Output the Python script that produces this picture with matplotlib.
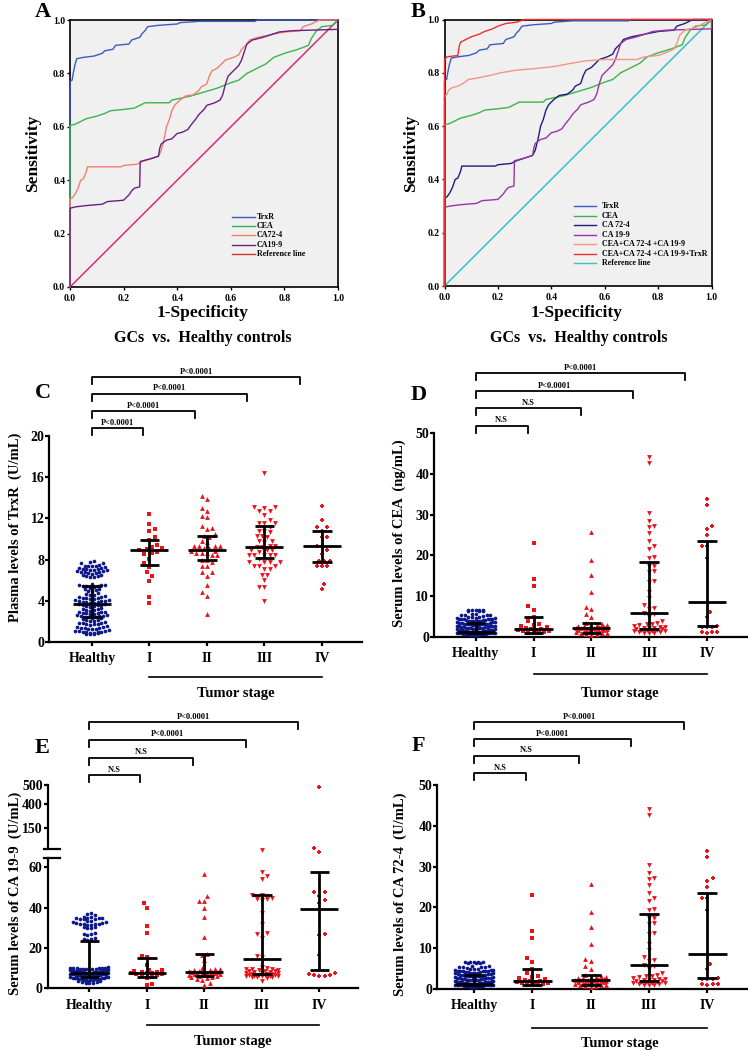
import numpy as np
import matplotlib
matplotlib.use("Agg")
import matplotlib.pyplot as plt
from matplotlib.lines import Line2D
from matplotlib import transforms

plt.rcParams['font.family'] = ['Liberation Serif', 'DejaVu Serif']
plt.rcParams['font.weight'] = 'bold'

trxr_fpr = [0, 0, 0.008, 0.012, 0.018, 0.025, 0.05, 0.09, 0.12, 0.13, 0.16, 0.17, 0.22, 0.23, 0.26,
            0.27, 0.28, 0.29, 0.33, 0.40, 0.41, 0.48, 0.69, 0.70, 1.0]
trxr_tpr = [0, 0.77, 0.775, 0.80, 0.83, 0.855, 0.86, 0.865, 0.875, 0.885, 0.89, 0.905, 0.91, 0.925, 0.935,
            0.95, 0.96, 0.975, 0.98, 0.985, 0.99, 0.995, 0.995, 1.0, 1.0]
cea_fpr = [0, 0, 0.02, 0.04, 0.06, 0.10, 0.13, 0.15, 0.20, 0.24, 0.26, 0.28, 0.37, 0.38, 0.45, 0.50,
           0.55, 0.60, 0.63, 0.66, 0.70, 0.73, 0.76, 0.80, 0.85, 0.89, 0.90, 0.92, 0.94, 0.98, 1.0]
cea_tpr = [0, 0.605, 0.61, 0.62, 0.63, 0.64, 0.65, 0.66, 0.665, 0.67, 0.68, 0.69, 0.69, 0.70, 0.715, 0.73,
           0.745, 0.765, 0.775, 0.80, 0.82, 0.835, 0.86, 0.875, 0.89, 0.905, 0.93, 0.96, 0.975, 0.98, 1.0]
ca724_fpr = [0, 0, 0.01, 0.02, 0.03, 0.04, 0.05, 0.06, 0.065, 0.19, 0.20, 0.25, 0.27, 0.30, 0.33, 0.34,
             0.35, 0.36, 0.37, 0.38, 0.39, 0.41, 0.43, 0.46, 0.48, 0.49, 0.51, 0.52, 0.53, 0.55, 0.58,
             0.61, 0.63, 0.64, 0.66, 0.67, 0.70, 0.75, 0.80, 0.86, 0.87, 0.90, 0.93, 1.0]
ca724_tpr = [0, 0.33, 0.335, 0.35, 0.37, 0.40, 0.405, 0.43, 0.45, 0.45, 0.455, 0.46, 0.47, 0.48, 0.49, 0.51,
             0.55, 0.60, 0.625, 0.66, 0.68, 0.70, 0.715, 0.72, 0.735, 0.75, 0.76, 0.79, 0.81, 0.82, 0.85,
             0.86, 0.87, 0.89, 0.91, 0.925, 0.935, 0.945, 0.955, 0.96, 0.975, 0.985, 1.0, 1.0]
ca199_fpr = [0, 0, 0.02, 0.06, 0.12, 0.14, 0.20, 0.22, 0.23, 0.24, 0.26, 0.262, 0.28, 0.30, 0.33, 0.335,
             0.34, 0.36, 0.38, 0.40, 0.42, 0.44, 0.45, 0.47, 0.48, 0.50, 0.51, 0.54, 0.56, 0.57, 0.58,
             0.59, 0.61, 0.63, 0.64, 0.65, 0.66, 0.68, 0.72, 0.75, 0.78, 0.83, 1.0, 1.0]
ca199_tpr = [0, 0.295, 0.30, 0.305, 0.31, 0.32, 0.325, 0.345, 0.36, 0.37, 0.375, 0.47, 0.475, 0.48, 0.49,
             0.52, 0.535, 0.55, 0.555, 0.575, 0.58, 0.59, 0.605, 0.63, 0.645, 0.665, 0.68, 0.69, 0.70,
             0.72, 0.76, 0.79, 0.81, 0.83, 0.85, 0.88, 0.91, 0.925, 0.935, 0.945, 0.955, 0.96, 0.965, 1.0]
combo3_fpr = [0, 0, 0.01, 0.015, 0.03, 0.05, 0.07, 0.09, 0.12, 0.17, 0.21, 0.27, 0.33, 0.38, 0.42, 0.47,
              0.53, 0.60, 0.72, 0.75, 0.80, 0.84, 0.86, 0.87, 0.88, 0.90, 0.94, 0.97, 1.0]
combo3_tpr = [0, 0.71, 0.72, 0.735, 0.745, 0.75, 0.76, 0.775, 0.78, 0.79, 0.80, 0.81, 0.815, 0.82, 0.825,
              0.835, 0.845, 0.85, 0.85, 0.86, 0.865, 0.88, 0.89, 0.91, 0.94, 0.96, 0.97, 0.985, 1.0]
combo4_fpr = [0, 0, 0.01, 0.05, 0.055, 0.06, 0.08, 0.10, 0.13, 0.15, 0.18, 0.20, 0.23, 0.27, 0.30, 1.0]
combo4_tpr = [0, 0.85, 0.86, 0.865, 0.90, 0.915, 0.925, 0.935, 0.945, 0.955, 0.965, 0.975, 0.985, 0.99, 1.0, 1.0]

stage_labels = ['Healthy', 'I', 'II', 'III', 'IV']

trxr_healthy = [7.85, 7.8, 7.7, 7.65, 7.45, 7.4, 7.4, 7.35, 7.35, 7.3, 7.2, 7.15, 7.1, 7.1, 7.05, 7.0, 7.0,
                6.95, 6.9, 6.85, 6.8, 6.8, 6.75, 6.7, 6.7, 6.65, 6.55, 6.5, 6.45, 6.4, 6.35, 6.3,
                5.6, 5.55, 5.5, 5.5, 5.45, 5.4, 5.4, 5.35, 5.2, 5.15, 5.1, 5.05, 5.0, 4.95, 4.8, 4.7, 4.6,
                4.55, 4.45, 4.4, 4.35, 4.3, 4.3, 4.25, 4.2, 4.2, 4.1, 4.05, 4.0, 4.0, 3.95, 3.9, 3.9, 3.85,
                3.8, 3.8, 3.7, 3.65, 3.6, 3.6, 3.55, 3.5, 3.45, 3.4, 3.3, 3.25, 3.2, 3.15, 3.1, 3.05,
                2.95, 2.9, 2.9, 2.85, 2.8, 2.8, 2.75, 2.7, 2.65, 2.6, 2.55, 2.5, 2.5, 2.45, 2.4, 2.4, 2.35,
                2.3, 2.2, 2.15, 2.1, 2.05, 2.0, 1.95, 1.85, 1.8, 1.8, 1.75, 1.7, 1.7, 1.65, 1.6, 1.5, 1.45,
                1.4, 1.4, 1.35, 1.3, 1.3, 1.25, 1.15, 1.1, 1.1, 1.05, 1.0, 1.0, 0.95, 0.95, 0.9, 0.9,
                0.85, 0.8, 0.8, 0.75]
trxr_I = [12.4, 11.5, 11.0, 10.8, 10.2, 9.9, 9.4, 9.2, 9.1, 9.0, 8.9, 8.7, 8.6, 8.5, 8.1, 7.7, 7.3, 6.8,
          6.4, 5.9, 4.4, 3.8]
trxr_II = [14.2, 13.9, 13.0, 12.7, 12.2, 12.1, 11.3, 11.1, 11.0, 10.5, 10.3, 10.15, 9.84, 9.7, 9.35, 9.3,
           9.3, 9.3, 9.1, 9.1, 8.87, 8.87, 8.65, 8.65, 8.65, 8.4, 8.4, 8.0, 8.0, 7.8, 7.4, 7.4, 6.84,
           6.84, 6.45, 5.5, 4.9, 4.5, 2.74]
trxr_III = [16.4, 13.1, 13.1, 13.0, 12.7, 12.7, 12.3, 11.8, 11.6, 11.6, 11.6, 11.2, 10.8, 10.8, 10.65,
            10.3, 10.3, 10.2, 9.85, 9.85, 9.7, 9.35, 9.35, 9.2, 9.2, 8.9, 8.9, 8.9, 8.7, 8.4, 8.4, 8.4,
            8.4, 8.4, 8.05, 7.8, 7.8, 7.8, 7.8, 7.4, 7.4, 7.4, 7.1, 7.1, 6.5, 6.5, 6.05, 5.3, 5.3, 4.0]
trxr_IV = [13.2, 11.8, 11.2, 11.2, 10.8, 10.2, 10.2, 9.35, 9.35, 8.9, 8.55, 7.9, 7.9, 7.9, 7.4, 7.4, 7.4,
           5.65, 5.15]
trxr_center = [3.7, 8.9, 8.9, 9.2, 9.35]
trxr_low = [2.4, 7.5, 7.95, 8.2, 7.75]
trxr_high = [5.4, 9.9, 10.3, 11.3, 10.8]
trxr_sig = ['P<0.0001', 'P<0.0001', 'P<0.0001', 'P<0.0001']

cea_healthy = [6.7, 6.6, 6.6, 6.5, 6.5, 6.4, 6.4, 6.3, 5.7, 5.6, 5.5, 5.5, 5.4, 5.3, 5.2,
               4.9, 4.8, 4.8, 4.7, 4.6, 4.6, 4.5, 4.5, 4.4, 4.4, 4.3, 4.3, 4.2, 4.1, 4.1, 4.0, 4.0, 3.9,
               3.9, 3.8, 3.8, 3.7, 3.7, 3.6, 3.5, 3.4, 3.4, 3.3, 3.3, 3.2, 3.2, 3.1, 3.1, 3.0, 3.0, 2.9,
               2.9, 2.8, 2.7, 2.7, 2.6, 2.6, 2.5, 2.5, 2.4, 2.4, 2.3, 2.3, 2.2, 2.2, 2.1, 2.1, 2.0, 2.0,
               1.9, 1.9, 1.8, 1.8, 1.8, 1.7, 1.7, 1.7, 1.6, 1.6, 1.6, 1.5, 1.5, 1.5, 1.4, 1.4, 1.4, 1.3,
               1.3, 1.3, 1.2, 1.2, 1.2, 1.1, 1.1, 1.1, 1.0, 1.0, 1.0, 0.9, 0.9, 0.9, 0.8, 0.8, 0.8, 0.7,
               0.7, 0.7, 0.6, 0.6, 0.6, 0.5, 1.45, 1.35, 1.25, 1.15, 1.05, 0.95, 0.85, 0.75]
cea_I = [23.0, 14.3, 12.4, 7.7, 6.6, 5.0, 3.8, 3.2, 3.0, 2.6, 2.4, 2.2, 2.0, 1.9, 1.8, 1.6, 1.5, 1.4,
         1.2, 1.1, 1.0, 0.9]
cea_II = [25.8, 18.9, 15.3, 11.0, 7.4, 6.8, 5.6, 5.0, 3.4, 3.3, 3.0, 2.9, 2.8, 2.7, 2.6, 2.5, 2.4, 2.3,
          2.3, 2.2, 2.1, 2.0, 2.0, 1.9, 1.8, 1.8, 1.7, 1.6, 1.5, 1.5, 1.4, 1.3, 1.2, 1.1, 1.0, 0.9,
          0.8, 0.7, 0.6]
cea_III = [44.2, 42.6, 30.5, 28.4, 27.1, 27.0, 25.4, 23.6, 22.4, 21.6, 19.6, 19.4, 17.4, 17.3, 16.1,
           16.0, 13.8, 13.4, 11.0, 9.5, 7.8, 7.0, 6.9, 5.8, 5.6, 4.9, 3.9, 3.4, 3.3, 3.2, 2.9, 2.7,
           2.5, 2.4, 2.3, 2.2, 2.1, 2.0, 1.9, 1.8, 1.7, 1.6, 1.5, 1.5, 1.4, 1.3, 1.2, 1.1, 1.0, 0.9]
cea_IV = [33.8, 32.3, 27.1, 26.5, 25.1, 22.3, 22.2, 19.3, 6.2, 5.0, 2.6, 2.5, 2.5, 2.4, 1.3, 1.2, 1.2, 1.1]
cea_center = [1.3, 2.0, 2.1, 5.9, 8.5]
cea_low = [0.9, 1.1, 1.1, 2.0, 2.6]
cea_high = [3.4, 4.9, 3.4, 18.5, 23.6]
cea_sig = ['N.S', 'N.S', 'P<0.0001', 'P<0.0001']

ca199_healthy = [37.3, 37.0, 36.5, 35.4, 35.2, 35.0, 34.9, 34.8, 34.7, 34.6, 34.5, 34.4, 33.5, 33.3,
                 33.0, 32.8, 32.4, 32.2, 32.0, 31.9, 31.8, 31.7, 31.6, 31.5, 30.5, 30.2, 30.0, 29.8,
                 27.2, 27.0, 26.8, 26.5, 24.8, 24.6, 24.4, 24.2,
                 10.4, 10.3, 10.2, 10.1, 10.0, 10.0, 9.9, 9.8, 9.7, 9.6, 9.5, 9.4, 9.3, 9.2, 9.1, 9.0,
                 9.0, 8.9, 8.8, 8.7, 8.6, 8.5, 8.4, 8.3, 8.2, 8.1, 8.0, 8.0, 7.9, 7.8, 7.7, 7.6, 7.5, 7.4,
                 7.3, 7.2, 7.1, 7.0, 7.0, 6.9, 6.8, 6.7, 6.6, 6.5, 6.4, 6.3, 6.2, 6.1, 6.0, 6.0, 5.9, 5.8,
                 5.7, 5.6, 5.5, 5.4, 5.3, 5.2, 5.1, 5.0, 4.9, 4.8, 4.7, 4.6, 4.5, 4.4, 4.3, 4.2, 4.1, 4.0,
                 3.8, 3.6, 3.4, 3.2, 3.0, 2.8, 2.6, 2.4]
ca199_I = [42.5, 40.0, 30.8, 27.5, 16.2, 15.5, 11.7, 9.3, 9.0, 8.6, 8.3, 8.0, 7.8, 7.6, 7.4, 7.2, 7.0,
           6.6, 6.2, 5.8, 5.0, 2.2, 1.8]
ca199_II = [56.8, 45.6, 43.4, 43.2, 39.8, 35.4, 25.4, 16.8, 16.4, 14.0, 10.0, 9.6, 9.4, 9.2, 9.0, 8.8,
            8.6, 8.4, 8.3, 8.2, 8.0, 7.8, 7.6, 7.5, 7.4, 7.2, 7.0, 6.8, 6.6, 6.4, 6.2, 6.0, 5.8, 5.5,
            5.2, 4.6, 4.2, 2.8, 1.8]
ca199_III = [68.5, 57.8, 55.6, 54.0, 46.5, 46.2, 45.0, 44.5, 44.2, 43.6, 37.5, 32.0, 27.2, 26.8, 25.0,
             16.2, 15.4, 10.4, 10.0, 9.8, 9.6, 9.4, 9.2, 9.0, 8.8, 8.6, 8.4, 8.2, 8.0, 7.8, 7.6, 7.4,
             7.2, 7.0, 6.9, 6.8, 6.7, 6.6, 6.5, 6.4, 6.3, 6.2, 6.1, 6.0, 5.9, 5.8, 5.6, 5.4, 5.0, 3.6]
ca199_IV = [487, 69.8, 67.8, 47.8, 47.6, 45.6, 44.0, 42.5, 26.8, 26.6, 16.5, 9.2, 7.6, 7.2, 6.6, 6.4,
            6.2, 6.0]
ca199_center = [7.8, 7.5, 8.0, 14.7, 39.4]
ca199_low = [5.5, 5.6, 5.9, 7.0, 9.2]
ca199_high = [23.6, 15.0, 17.2, 46.3, 57.8]
ca199_sig = ['N.S', 'N.S', 'P<0.0001', 'P<0.0001']

# panel F shows the same values as panel D in the source figure
ca724_healthy, ca724_I, ca724_II, ca724_III, ca724_IV = cea_healthy, cea_I, cea_II, cea_III, cea_IV
ca724_center, ca724_low, ca724_high = cea_center, cea_low, cea_high
ca724_sig = ['N.S', 'N.S', 'P<0.0001', 'P<0.0001']

# ---------------- figure helpers ----------------
W, H = 748, 1051
fig = plt.figure(figsize=(W / 100, H / 100), dpi=100)
NAVY = '#0d1889'
RED = '#e8141c'
MARKERS = ['o', 's', '^', 'v', 'P']
MSIZE = [7, 10, 12, 12, 12]


def px_axes(l, t, r, b):
    return fig.add_axes([l / W, 1 - b / H, (r - l) / W, (b - t) / H])


def ftext(x, y, s, **kw):
    kw.setdefault('ha', 'center'); kw.setdefault('va', 'center')
    fig.text(x / W, 1 - y / H, s, **kw)


def fline(x0, x1, y0, y1, **kw):
    fig.add_artist(Line2D([x0 / W, x1 / W], [1 - y0 / H, 1 - y1 / H], **kw))


def roc_panel(ax, curves, ref_color):
    ax.set_facecolor('#f0f0f0')
    ax.plot([0, 1], [0, 1], color=ref_color, lw=1.1, zorder=2)
    for fpr, tpr, c in curves:
        ax.plot(fpr, tpr, color=c, lw=1.0, clip_on=False, zorder=3)
    ax.set_xlim(0, 1); ax.set_ylim(0, 1)
    t = np.round(np.arange(0, 1.01, 0.2), 1)
    ax.set_xticks(t); ax.set_yticks(t)
    ax.set_xticklabels([f"{v:.1f}" for v in t]); ax.set_yticklabels([f"{v:.1f}" for v in t])
    for s in ax.spines.values():
        s.set_linewidth(1.2); s.set_zorder(2.5)
    ax.tick_params(direction='out', length=2.5, width=1, labelsize=7)
    ax.tick_params(axis='y', pad=1)
    ax.tick_params(axis='x', pad=2.5)


def roc_legend(x0, y0, dy, length, gap, items):
    for k, (lab, col) in enumerate(items):
        y = y0 + k * dy
        fline(x0, x0 + length, y, y, color=col, lw=1.0)
        ftext(x0 + gap, y, lab, ha='left', fontsize=5.8)


def rows_swarm(ax, xc, vals, dot, half):
    # dense groups: bin into pixel rows and spread each row symmetrically (smile-shaped arcs)
    vals = np.asarray(vals, float)
    pts = ax.transData.transform(np.column_stack([np.full(len(vals), xc), vals]))
    ppx = ax.transData.transform([(1, 0)])[0, 0] - ax.transData.transform([(0, 0)])[0, 0]
    rows = np.floor(pts[:, 1] / dot).astype(int)
    off = np.zeros(len(vals))
    for r in np.unique(rows):
        idx = np.where(rows == r)[0]
        n = len(idx)
        if n < 2:
            continue
        step = min(dot, 2 * half / (n - 1))
        slots = (np.arange(n) - (n - 1) / 2) * step
        slots = slots[np.argsort(np.abs(slots), kind='stable')]
        off[idx[np.argsort(vals[idx], kind='stable')]] = slots
    return xc + off / ppx


def bee_swarm(ax, xc, vals, dot, half):
    # sparse groups: place each point at the nearest free horizontal slot
    vals = np.asarray(vals, float)
    ypx = ax.transData.transform(np.column_stack([np.full(len(vals), xc), vals]))[:, 1]
    ppx = ax.transData.transform([(1, 0)])[0, 0] - ax.transData.transform([(0, 0)])[0, 0]
    cands = [0.0]
    k = 1
    while k * dot / 2 <= half:
        cands += [k * dot / 2, -k * dot / 2]
        k += 1
    placed_x, placed_y = [], []
    off = np.zeros(len(vals))
    for n, i in enumerate(np.argsort(ypx, kind='stable')):
        y = ypx[i]
        best, bestd = 0.0, -1.0
        sign = 1 if n % 2 else -1
        for c in cands:
            c = c * sign
            if placed_x:
                d = np.min(np.hypot(np.array(placed_x) - c, np.array(placed_y) - y))
            else:
                d = 1e9
            if d >= dot:
                best = c
                break
            if d > bestd:
                bestd, best = d, c
        off[i] = best
        placed_x.append(best); placed_y.append(y)
    return xc + off / ppx


def dot_groups(ax, groups, upper=None, cut=100):
    for i, vals in enumerate(groups):
        vals = np.asarray(vals, float)
        col = NAVY if i == 0 else RED
        lo = vals[vals < cut]
        if i == 0:
            xs = rows_swarm(ax, i, lo, 3.7, 19)
        else:
            xs = bee_swarm(ax, i, lo, 5.2, 18)
        ax.scatter(xs, lo, s=MSIZE[i], marker=MARKERS[i], color=col, lw=0, zorder=3, clip_on=False)
        hi = vals[vals >= cut]
        if upper is not None and len(hi):
            upper.scatter(np.full(len(hi), i), hi, s=MSIZE[i], marker=MARKERS[i], color=col, lw=0,
                          zorder=3, clip_on=False)


def mean_bars(ax, centers, lows, highs):
    kw = dict(color='k', lw=2.0, zorder=4, solid_capstyle='butt', clip_on=False)
    for i, (c, lo, hi) in enumerate(zip(centers, lows, highs)):
        ax.plot([i - 0.33, i + 0.33], [c, c], **kw)
        ax.plot([i, i], [lo, hi], **kw)
        ax.plot([i - 0.17, i + 0.17], [lo, lo], **kw)
        ax.plot([i - 0.17, i + 0.17], [hi, hi], **kw)


def style_dot_axes(ax, xlim, ylim, yticks, xlabels=True):
    ax.set_xlim(xlim); ax.set_ylim(ylim)
    ax.spines['top'].set_visible(False); ax.spines['right'].set_visible(False)
    ax.spines['left'].set_linewidth(1.6); ax.spines['bottom'].set_linewidth(1.6)
    ax.set_yticks(yticks)
    ax.tick_params(direction='out', length=3, width=1.6, labelsize=10)
    ax.tick_params(axis='y', pad=0.5)
    if xlabels:
        ax.set_xticks(range(len(stage_labels)))
        ax.set_xticklabels(stage_labels)
        ax.tick_params(axis='x', pad=4.5)


def brackets(ax, ends, tops, labels):
    tr = transforms.blended_transform_factory(ax.transData, fig.transFigure)
    for xe, top, lab in zip(ends, tops, labels):
        yt, yl = 1 - top / H, 1 - (top + 7) / H
        ax.plot([0, 0, xe, xe], [yl, yt, yt, yl], transform=tr, color='k', lw=1.3, clip_on=False)
        ax.text(xe / 2, 1 - (top - 1.5) / H, lab, transform=tr, ha='center', va='bottom', fontsize=6)


def tumor_stage(ax, y_line, y_text):
    tr = transforms.blended_transform_factory(ax.transData, fig.transFigure)
    ax.plot([1, 4], [1 - y_line / H] * 2, transform=tr, color='k', lw=1.2, clip_on=False)
    ax.text(2.5, 1 - y_text / H, 'Tumor stage', transform=tr, ha='center', va='center', fontsize=10.5)


# ---------------- A ----------------
axA = px_axes(70, 20, 338, 287)
roc_panel(axA, [(trxr_fpr, trxr_tpr, '#3b5bc4'), (cea_fpr, cea_tpr, '#3cb44b'),
                (ca724_fpr, ca724_tpr, '#f0806e'), (ca199_fpr, ca199_tpr, '#6a2080')], '#e0287a')
roc_legend(231.7, 216.7, 9.33, 23, 25, [('TrxR', '#3b5bc4'), ('CEA', '#3cb44b'), ('CA72-4', '#f0806e'),
                                        ('CA19-9', '#6a2080'), ('Reference line', '#c83232')])
ftext(35, 2, 'A', ha='left', va='top', fontsize=16)
ftext(203, 313, '1-Specificity', fontsize=12.5)
ftext(33, 153, 'Sensitivity', fontsize=12.5, rotation=90)
ftext(203, 338, 'GCs  vs.  Healthy controls', fontsize=11.5)

# ---------------- B ----------------
axB = px_axes(444.5, 19.5, 711.5, 286)
roc_panel(axB, [(trxr_fpr, trxr_tpr, '#3b5bc4'), (cea_fpr, cea_tpr, '#3cb44b'),
                (ca724_fpr, ca724_tpr, '#1e1e7a'), (ca199_fpr, ca199_tpr, '#9a35a8'),
                (combo3_fpr, combo3_tpr, '#f39585'), (combo4_fpr, combo4_tpr, '#f03030')], '#3cc0c0')
roc_legend(574, 206, 9.55, 21.7, 28, [('TrxR', '#3b5bc4'), ('CEA', '#3cb44b'), ('CA 72-4', '#1e1e7a'),
                                      ('CA 19-9', '#9a35a8'), ('CEA+CA 72-4 +CA 19-9', '#f39585'),
                                      ('CEA+CA 72-4 +CA 19-9+TrxR', '#f03030'),
                                      ('Reference line', '#3cc0c0')])
ftext(411, 2, 'B', ha='left', va='top', fontsize=16)
ftext(577, 313, '1-Specificity', fontsize=12.5)
ftext(411, 153, 'Sensitivity', fontsize=12.5, rotation=90)
ftext(579, 338, 'GCs  vs.  Healthy controls', fontsize=11.5)

# ---------------- C ----------------
axC = px_axes(49.3, 436, 362, 642)
style_dot_axes(axC, (-0.743, 4.70), (0, 20), [0, 4, 8, 12, 16, 20])
dot_groups(axC, [trxr_healthy, trxr_I, trxr_II, trxr_III, trxr_IV])
mean_bars(axC, trxr_center, trxr_low, trxr_high)
brackets(axC, [0.89, 1.79, 2.70, 3.62], [428.3, 411, 394, 377.3], trxr_sig)
tumor_stage(axC, 677, 694)
ftext(35, 383, 'C', ha='left', va='top', fontsize=16)
ftext(15, 527, 'Plasma levels of TrxR  (U/mL)', fontsize=10.5, rotation=90)

# ---------------- D ----------------
axD = px_axes(434, 433, 747, 637)
style_dot_axes(axD, (-0.72, 4.69), (0, 50), [0, 10, 20, 30, 40, 50])
dot_groups(axD, [cea_healthy, cea_I, cea_II, cea_III, cea_IV])
mean_bars(axD, cea_center, cea_low, cea_high)
brackets(axD, [0.90, 1.82, 2.72, 3.62], [425.7, 408.3, 391, 373.3], cea_sig)
tumor_stage(axD, 674, 693)
ftext(411, 385, 'D', ha='left', va='top', fontsize=16)
ftext(399, 533, 'Serum levels of CEA  (ng/mL)', fontsize=10.5, rotation=90)

# ---------------- E (broken axis) ----------------
axE = px_axes(47.5, 857.7, 358, 988.3)
style_dot_axes(axE, (-0.727, 4.67), (0, 64.8), [0, 20, 40, 60])
axEu = px_axes(47.5, 785, 358, 849.3)
seg_vals = [65, 150, 400, 500]
seg_pos = [0, 21.7, 45.7, 64.3]
axEu.set_yscale('function', functions=(lambda v: np.interp(v, seg_vals, seg_pos),
                                       lambda p: np.interp(p, seg_pos, seg_vals)))
axEu.set_xlim(axE.get_xlim()); axEu.set_ylim(65, 500)
axEu.set_yticks([150, 400, 500])
axEu.set_xticks([])
for s in ('top', 'right', 'bottom'):
    axEu.spines[s].set_visible(False)
axEu.spines['left'].set_linewidth(1.6)
axEu.patch.set_alpha(0)
axEu.tick_params(direction='out', length=3, width=1.6, labelsize=10, pad=0.5)
fline(44, 60, 849.3, 849.3, color='k', lw=1.6)
fline(44, 60, 857.7, 857.7, color='k', lw=1.6)
dot_groups(axE, [ca199_healthy, ca199_I, ca199_II, ca199_III, ca199_IV], upper=axEu)
mean_bars(axE, ca199_center, ca199_low, ca199_high)
brackets(axE, [0.88, 1.81, 2.72, 3.62], [775, 757.7, 740, 722.3], ca199_sig)
tumor_stage(axE, 1025, 1042)
ftext(35, 738, 'E', ha='left', va='top', fontsize=16)
ftext(15, 893, 'Serum levels of CA 19-9  (U/mL)', fontsize=10.5, rotation=90)

# ---------------- F ----------------
axF = px_axes(437.3, 785, 747, 989)
style_dot_axes(axF, (-0.63, 4.68), (0, 50), [0, 10, 20, 30, 40, 50])
dot_groups(axF, [ca724_healthy, ca724_I, ca724_II, ca724_III, ca724_IV])
mean_bars(axF, ca724_center, ca724_low, ca724_high)
brackets(axF, [0.89, 1.80, 2.69, 3.60], [773.3, 756, 739.3, 722.3], ca724_sig)
tumor_stage(axF, 1028, 1043)
ftext(412, 736, 'F', ha='left', va='top', fontsize=16)
ftext(400, 894, 'Serum levels of CA 72-4  (U/mL)', fontsize=10.5, rotation=90)

fig.savefig("out.png", dpi=100)
